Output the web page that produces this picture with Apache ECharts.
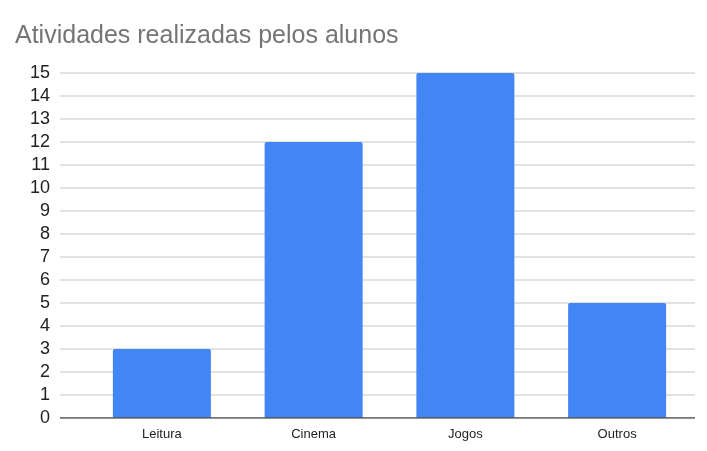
<!DOCTYPE html>
<html><head><meta charset="utf-8">
<script src="https://cdn.jsdelivr.net/npm/echarts@6/dist/echarts.min.js"></script>
<style>html,body{margin:0;padding:0;background:#fff}#c{width:707px;height:451px}</style>
</head><body><div id="c"></div>
<script>
const categories = ['Leitura', 'Cinema', 'Jogos', 'Outros'];
const values = [3, 12, 15, 5];
const titleText = 'Atividades realizadas pelos alunos';

const chart = echarts.init(document.getElementById('c'), null, {renderer: 'canvas'});
chart.setOption({
  animation: false,
  title: {text: titleText, left: 10, top: 19,
    textStyle: {fontFamily: 'Arial, Liberation Sans', fontSize: 25, fontWeight: 'normal', color: '#757575'}},
  grid: [
    {left: 60, right: 12, top: 73, bottom: 33},
    {left: 86, right: 14, top: 73, bottom: 33}
  ],
  xAxis: [
    {gridIndex: 0, type: 'value', min: 0, max: 1, show: false},
    {gridIndex: 1, type: 'category', data: categories,
      axisLine: {show: false}, axisTick: {show: false},
      axisLabel: {fontFamily: 'Arial, Liberation Sans', fontSize: 13, color: '#222', margin: 10}}
  ],
  yAxis: [
    {gridIndex: 0, type: 'value', min: 0, max: 15, interval: 1,
      axisLine: {show: false}, axisTick: {show: false},
      axisLabel: {fontFamily: 'Arial, Liberation Sans', fontSize: 18, color: '#222', margin: 10},
      splitLine: {lineStyle: {color: '#d9d9d9', width: 1.5}}},
    {gridIndex: 1, type: 'value', min: 0, max: 15, interval: 1, show: false, splitLine: {show: false}}
  ],
  series: [
    {type: 'bar', xAxisIndex: 1, yAxisIndex: 1, data: values, barWidth: 98,
      itemStyle: {color: '#4285F4', borderRadius: [2, 2, 0, 0]}},
    {type: 'line', xAxisIndex: 0, yAxisIndex: 0, data: [[0, 0], [1, 0]], symbol: 'none',
      lineStyle: {color: '#555', width: 1.5}, z: 5, silent: true}
  ]
});
</script></body></html>
